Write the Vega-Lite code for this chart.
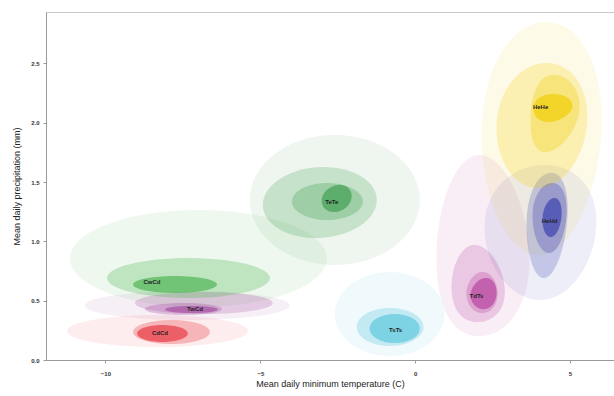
{
  "$schema": "https://vega.github.io/schema/vega-lite/v6.json",
  "width": 568,
  "height": 348,
  "autosize": "none",
  "padding": {"left": 46, "top": 12, "right": 0, "bottom": 36},
  "background": "white",
  "config": {
    "view": {"stroke": "#c8c8c8", "strokeWidth": 1},
    "font": "Liberation Sans",
    "axis": {"grid": false, "domainColor": "#9a9a9a", "tickColor": "#9a9a9a", "tickSize": 3, "labelFontSize": 6, "labelColor": "#333", "labelFontWeight": "bold", "titleFontSize": 9, "titleFontWeight": "normal", "titleColor": "#222"}
  },
  "datasets": {
    "c": [
      {"g":"CdCd","lv":1,"k":0,"x":-11.24,"y":0.245},{"g":"CdCd","lv":1,"k":1,"x":-8.32,"y":0.379},{"g":"CdCd","lv":1,"k":2,"x":-5.40,"y":0.245},{"g":"CdCd","lv":1,"k":3,"x":-8.32,"y":0.110},
      {"g":"CdCd","lv":3,"k":0,"x":-9.11,"y":0.236},{"g":"CdCd","lv":3,"k":1,"x":-7.87,"y":0.337},{"g":"CdCd","lv":3,"k":2,"x":-6.63,"y":0.236},{"g":"CdCd","lv":3,"k":3,"x":-7.87,"y":0.135},
      {"g":"CdCd","lv":4,"k":0,"x":-8.98,"y":0.223},{"g":"CdCd","lv":4,"k":1,"x":-8.16,"y":0.295},{"g":"CdCd","lv":4,"k":2,"x":-7.34,"y":0.223},{"g":"CdCd","lv":4,"k":3,"x":-8.16,"y":0.152},

      {"g":"TwCd","lv":1,"k":0,"x":-10.66,"y":0.460},{"g":"TwCd","lv":1,"k":1,"x":-7.35,"y":0.582},{"g":"TwCd","lv":1,"k":2,"x":-4.05,"y":0.460},{"g":"TwCd","lv":1,"k":3,"x":-7.35,"y":0.337},
      {"g":"TwCd","lv":2,"k":0,"x":-9.05,"y":0.481},{"g":"TwCd","lv":2,"k":1,"x":-6.82,"y":0.573},{"g":"TwCd","lv":2,"k":2,"x":-4.60,"y":0.481},{"g":"TwCd","lv":2,"k":3,"x":-6.82,"y":0.388},
      {"g":"TwCd","lv":3,"k":0,"x":-8.73,"y":0.430},{"g":"TwCd","lv":3,"k":1,"x":-7.48,"y":0.481},{"g":"TwCd","lv":3,"k":2,"x":-6.24,"y":0.430},{"g":"TwCd","lv":3,"k":3,"x":-7.48,"y":0.379},
      {"g":"TwCd","lv":4,"k":0,"x":-8.08,"y":0.426},{"g":"TwCd","lv":4,"k":1,"x":-7.23,"y":0.455},{"g":"TwCd","lv":4,"k":2,"x":-6.37,"y":0.426},{"g":"TwCd","lv":4,"k":3,"x":-7.23,"y":0.396},

      {"g":"CwCd","lv":1,"k":0,"x":-11.15,"y":0.856},{"g":"CwCd","lv":1,"k":1,"x":-7.00,"y":1.265},{"g":"CwCd","lv":1,"k":2,"x":-2.85,"y":0.856},{"g":"CwCd","lv":1,"k":3,"x":-7.00,"y":0.447},
      {"g":"CwCd","lv":3,"k":0,"x":-9.95,"y":0.691},{"g":"CwCd","lv":3,"k":1,"x":-7.32,"y":0.860},{"g":"CwCd","lv":3,"k":2,"x":-4.69,"y":0.691},{"g":"CwCd","lv":3,"k":3,"x":-7.32,"y":0.523},
      {"g":"CwCd","lv":4,"k":0,"x":-9.11,"y":0.637},{"g":"CwCd","lv":4,"k":1,"x":-7.76,"y":0.708},{"g":"CwCd","lv":4,"k":2,"x":-6.40,"y":0.637},{"g":"CwCd","lv":4,"k":3,"x":-7.76,"y":0.565},

      {"g":"TeTe","lv":1,"k":0,"x":-5.34,"y":1.349},{"g":"TeTe","lv":1,"k":1,"x":-2.60,"y":1.897},{"g":"TeTe","lv":1,"k":2,"x":0.15,"y":1.349},{"g":"TeTe","lv":1,"k":3,"x":-2.60,"y":0.801},
      {"g":"TeTe","lv":2,"k":0,"x":-4.92,"y":1.307},{"g":"TeTe","lv":2,"k":1,"x":-3.08,"y":1.627},{"g":"TeTe","lv":2,"k":2,"x":-1.24,"y":1.349},{"g":"TeTe","lv":2,"k":3,"x":-3.08,"y":1.029},
      {"g":"TeTe","lv":3,"k":0,"x":-3.98,"y":1.336},{"g":"TeTe","lv":3,"k":1,"x":-2.84,"y":1.492},{"g":"TeTe","lv":3,"k":2,"x":-1.69,"y":1.336},{"g":"TeTe","lv":3,"k":3,"x":-2.84,"y":1.180},
      {"g":"TeTe","lv":4,"k":0,"x":-3.02,"y":1.349},{"g":"TeTe","lv":4,"k":1,"x":-2.50,"y":1.476},{"g":"TeTe","lv":4,"k":2,"x":-2.05,"y":1.374},{"g":"TeTe","lv":4,"k":3,"x":-2.56,"y":1.248},

      {"g":"TsTs","lv":1,"k":0,"x":-2.60,"y":0.388},{"g":"TsTs","lv":1,"k":1,"x":-0.82,"y":0.742},{"g":"TsTs","lv":1,"k":2,"x":0.95,"y":0.388},{"g":"TsTs","lv":1,"k":3,"x":-0.82,"y":0.034},
      {"g":"TsTs","lv":3,"k":0,"x":-1.89,"y":0.278},{"g":"TsTs","lv":3,"k":1,"x":-0.82,"y":0.438},{"g":"TsTs","lv":3,"k":2,"x":0.27,"y":0.278},{"g":"TsTs","lv":3,"k":3,"x":-0.82,"y":0.118},
      {"g":"TsTs","lv":4,"k":0,"x":-1.47,"y":0.266},{"g":"TsTs","lv":4,"k":1,"x":-0.66,"y":0.388},{"g":"TsTs","lv":4,"k":2,"x":0.15,"y":0.266},{"g":"TsTs","lv":4,"k":3,"x":-0.66,"y":0.143},

      {"g":"TdTs","lv":1,"k":0,"x":0.69,"y":0.801},{"g":"TdTs","lv":1,"k":1,"x":2.02,"y":1.728},{"g":"TdTs","lv":1,"k":2,"x":3.69,"y":0.885},{"g":"TdTs","lv":1,"k":3,"x":2.18,"y":0.202},
      {"g":"TdTs","lv":2,"k":0,"x":1.18,"y":0.573},{"g":"TdTs","lv":2,"k":1,"x":1.89,"y":0.970},{"g":"TdTs","lv":2,"k":2,"x":2.89,"y":0.607},{"g":"TdTs","lv":2,"k":3,"x":2.08,"y":0.320},
      {"g":"TdTs","lv":3,"k":0,"x":1.66,"y":0.548},{"g":"TdTs","lv":3,"k":1,"x":2.15,"y":0.742},{"g":"TdTs","lv":3,"k":2,"x":2.66,"y":0.573},{"g":"TdTs","lv":3,"k":3,"x":2.21,"y":0.396},
      {"g":"TdTs","lv":4,"k":0,"x":1.79,"y":0.540},{"g":"TdTs","lv":4,"k":1,"x":2.24,"y":0.691},{"g":"TdTs","lv":4,"k":2,"x":2.63,"y":0.573},{"g":"TdTs","lv":4,"k":3,"x":2.27,"y":0.430},

      {"g":"HeHd","lv":1,"k":0,"x":2.24,"y":1.138},{"g":"HeHd","lv":1,"k":1,"x":4.18,"y":1.644},{"g":"HeHd","lv":1,"k":2,"x":5.85,"y":1.138},{"g":"HeHd","lv":1,"k":3,"x":4.02,"y":0.506},
      {"g":"HeHd","lv":2,"k":0,"x":3.60,"y":1.180},{"g":"HeHd","lv":2,"k":1,"x":4.34,"y":1.577},{"g":"HeHd","lv":2,"k":2,"x":4.92,"y":1.223},{"g":"HeHd","lv":2,"k":3,"x":4.18,"y":0.691},
      {"g":"HeHd","lv":3,"k":0,"x":3.79,"y":1.223},{"g":"HeHd","lv":3,"k":1,"x":4.40,"y":1.492},{"g":"HeHd","lv":3,"k":2,"x":4.89,"y":1.248},{"g":"HeHd","lv":3,"k":3,"x":4.34,"y":0.902},
      {"g":"HeHd","lv":4,"k":0,"x":4.11,"y":1.197},{"g":"HeHd","lv":4,"k":1,"x":4.47,"y":1.366},{"g":"HeHd","lv":4,"k":2,"x":4.73,"y":1.223},{"g":"HeHd","lv":4,"k":3,"x":4.40,"y":1.037},

      {"g":"HeHe","lv":1,"k":0,"x":2.15,"y":1.939},{"g":"HeHe","lv":1,"k":1,"x":4.18,"y":2.850},{"g":"HeHe","lv":1,"k":2,"x":6.02,"y":1.981},{"g":"HeHe","lv":1,"k":3,"x":4.02,"y":0.885},
      {"g":"HeHe","lv":2,"k":0,"x":2.63,"y":1.981},{"g":"HeHe","lv":2,"k":1,"x":4.18,"y":2.504},{"g":"HeHe","lv":2,"k":2,"x":5.56,"y":2.024},{"g":"HeHe","lv":2,"k":3,"x":4.02,"y":1.450},
      {"g":"HeHe","lv":3,"k":0,"x":3.73,"y":2.066},{"g":"HeHe","lv":3,"k":1,"x":4.40,"y":2.403},{"g":"HeHe","lv":3,"k":2,"x":5.31,"y":2.125},{"g":"HeHe","lv":3,"k":3,"x":4.27,"y":1.754},
      {"g":"HeHe","lv":4,"k":0,"x":3.82,"y":2.125},{"g":"HeHe","lv":4,"k":1,"x":4.40,"y":2.243},{"g":"HeHe","lv":4,"k":2,"x":5.08,"y":2.142},{"g":"HeHe","lv":4,"k":3,"x":4.34,"y":2.007}
    ],
    "lab": [
      {"g":"CdCd","x":-8.24,"y":0.228},
      {"g":"TwCd","x":-7.11,"y":0.43},
      {"g":"CwCd","x":-8.50,"y":0.658},
      {"g":"TeTe","x":-2.69,"y":1.332},
      {"g":"TsTs","x":-0.63,"y":0.253},
      {"g":"TdTs","x":1.98,"y":0.540},
      {"g":"HeHd","x":4.34,"y":1.172},
      {"g":"HeHe","x":4.05,"y":2.133}
    ]
  },
  "encoding": {
    "x": {"field": "x", "type": "quantitative", "scale": {"domain": [-11.92, 6.42], "nice": false, "zero": false},
      "axis": {"title": "Mean daily minimum temperature (C)", "values": [-10, -5, 0, 5], "labelPadding": 7, "titlePadding": 3}},
    "y": {"field": "y", "type": "quantitative", "scale": {"domain": [0, 2.934], "nice": false},
      "axis": {"title": "Mean daily precipitation (mm)", "values": [0, 0.5, 1, 1.5, 2, 2.5], "format": ".1f", "labelPadding": 4, "titlePadding": 9}}
  },
  "layer": [
    {"data": {"name": "c"}, "transform": [{"filter": "datum.lv == 1"}],
     "mark": {"type": "line", "filled": true, "interpolate": "cardinal-closed", "tension": -0.657, "opacity": 0.09, "strokeWidth": 0},
     "encoding": {"color": {"field": "g", "type": "nominal", "legend": null, "scale": {"domain": ["CdCd","TwCd","CwCd","TeTe","TsTs","TdTs","HeHd","HeHe"], "range": ["#e8363f","#a24c9e","#4db552","#3f9e52","#5cc7dd","#b8449f","#3a3fb0","#f0cc00"]}}, "detail": {"field": "g"}, "order": {"field": "k", "type": "quantitative"}}},
    {"data": {"name": "c"}, "transform": [{"filter": "datum.lv == 2"}],
     "mark": {"type": "line", "filled": true, "interpolate": "cardinal-closed", "tension": -0.657, "opacity": 0.23, "strokeWidth": 0},
     "encoding": {"color": {"field": "g", "type": "nominal", "legend": null}, "detail": {"field": "g"}, "order": {"field": "k", "type": "quantitative"}}},
    {"data": {"name": "c"}, "transform": [{"filter": "datum.lv == 3"}],
     "mark": {"type": "line", "filled": true, "interpolate": "cardinal-closed", "tension": -0.657, "opacity": 0.3, "strokeWidth": 0},
     "encoding": {"color": {"field": "g", "type": "nominal", "legend": null}, "detail": {"field": "g"}, "order": {"field": "k", "type": "quantitative"}}},
    {"data": {"name": "c"}, "transform": [{"filter": "datum.lv == 4"}],
     "mark": {"type": "line", "filled": true, "interpolate": "cardinal-closed", "tension": -0.657, "opacity": 0.68, "strokeWidth": 0},
     "encoding": {"color": {"field": "g", "type": "nominal", "legend": null}, "detail": {"field": "g"}, "order": {"field": "k", "type": "quantitative"}}},
    {"data": {"name": "lab"},
     "mark": {"type": "text", "fontSize": 6, "fontWeight": "bold", "color": "#222"},
     "encoding": {"text": {"field": "g"}}}
  ]
}
